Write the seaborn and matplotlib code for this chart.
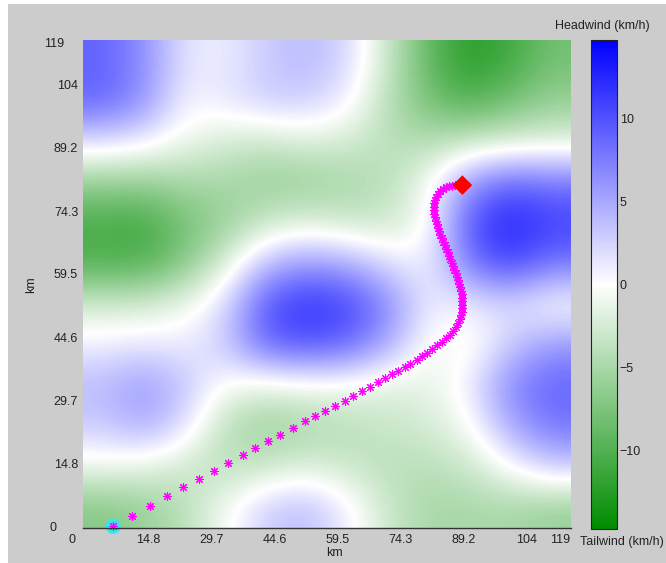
import numpy as np
import matplotlib
matplotlib.use("Agg")
import matplotlib.pyplot as plt
import seaborn as sns
from matplotlib.colors import LinearSegmentedColormap
from matplotlib.transforms import ScaledTranslation
from matplotlib.patches import Rectangle

# Wind component along the route (km/h): positive = headwind, negative = tailwind.
# Rows run from north (top) to south (bottom), columns from west to east,
# sampled on a regular 12 x 12 grid over the domain.
wind_grid = [
    [9.0, 6.5, 1.5, 1.0, 3.0, 4.0, 2.5, -3.0, -9.0, -12.5, -11.0, -8.0],
    [9.0, 6.5, 0.5, 1.5, 3.0, 3.0, 1.0, -4.0, -8.0, -10.0, -8.0, -6.0],
    [2.0, 1.0, -1.0, -2.5, -3.0, -2.0, -2.5, -4.0, -4.5, -3.0, -2.5, -2.0],
    [-6.0, -6.0, -5.0, -5.0, -6.0, -6.0, -5.0, -4.0, -0.5, 6.0, 9.0, 8.0],
    [-10.5, -11.0, -8.0, -6.0, -3.0, -2.0, -3.0, -3.0, -0.5, 10.0, 13.0, 11.0],
    [-10.0, -10.0, -7.0, -2.0, 4.0, 6.0, 5.0, 2.0, 0.5, 8.0, 11.0, 8.0],
    [-2.5, -2.5, -1.0, 2.0, 10.0, 12.0, 11.0, 7.0, 1.0, 1.0, 2.0, -0.5],
    [1.0, 1.5, 1.0, 3.0, 9.0, 10.0, 9.0, 5.0, -0.5, -1.0, 3.0, 6.0],
    [4.0, 6.0, 3.5, -0.5, -1.5, -1.0, -1.0, -2.0, -1.5, 1.0, 7.0, 9.0],
    [3.0, 5.0, 2.0, -4.0, -6.0, -5.0, -4.0, -3.0, -2.5, -0.5, 5.0, 8.0],
    [-1.0, -1.5, -3.0, -4.0, -3.0, -2.0, -3.0, -4.0, -4.0, -3.0, 0.0, 3.0],
    [-7.0, -6.0, -4.0, -0.5, 3.0, 4.0, 1.0, -3.0, -5.0, -5.0, -5.0, -6.0],
]

# Flight path (km), one point per time step
path_x_km = [
    6.6, 11.1, 15.3, 19.3, 23.1, 26.9, 30.4, 33.7, 37.1, 40.1, 43.2, 46.0,
    49.0, 51.7, 54.1, 56.5, 58.9, 61.2, 63.2, 65.2, 67.2, 69.0, 70.6, 72.3,
    73.8, 75.3, 76.6, 78.1, 79.4, 80.5, 81.7, 82.9,
    84.0, 85.1, 86.0, 86.8, 87.4, 87.9, 88.3, 88.5, 88.7, 88.8, 88.9, 88.9,
    88.8, 88.7, 88.6, 88.4, 88.1, 87.9, 87.6, 87.3, 87.0, 86.7, 86.4, 86.1,
    85.8, 85.4, 85.1, 84.7, 84.4, 84.0, 83.7, 83.4, 83.1, 82.9, 82.7, 82.5,
    82.3, 82.3, 82.3, 82.3, 82.5, 82.8, 83.2, 83.7, 84.3, 85.0, 85.7, 86.4,
    87.1, 87.8, 88.5,
]
path_y_km = [
    0.0, 2.4, 4.9, 7.1, 9.2, 11.1, 13.1, 14.9, 16.7, 18.5, 20.0, 21.6,
    23.2, 24.7, 26.0, 27.2, 28.4, 29.6, 30.8, 31.8, 32.8, 33.9, 34.9, 35.8,
    36.7, 37.5, 38.3, 39.3, 40.1, 40.9, 41.8, 42.7,
    43.5, 44.3, 45.1, 46.1, 47.0, 48.0, 48.9, 49.7, 50.6, 51.4, 52.2, 53.0,
    53.9, 54.7, 55.5, 56.3, 57.2, 58.0, 58.8, 59.6, 60.5, 61.3, 62.1, 62.9,
    63.8, 64.6, 65.4, 66.2, 67.1, 67.9, 68.7, 69.5, 70.4, 71.2, 72.0, 72.8,
    73.7, 74.5, 75.3, 76.1, 77.0, 77.7, 78.4, 79.0, 79.5, 79.9, 80.1, 80.3,
    80.4, 80.4, 80.4,
]
start_km = (6.6, 0.0)
end_km = (88.9, 80.4)

x_tick_pos = [0, 14.8, 29.7, 44.6, 59.5, 74.3, 89.2, 104, 112]
y_tick_pos = [0, 14.8, 29.7, 44.6, 59.5, 74.3, 89.2, 104, 114]
tick_labels = ["0", "14.8", "29.7", "44.6", "59.5", "74.3", "89.2", "104", "119"]
cbar_ticks = [-10, -5, 0, 5, 10]
wind_limit = 14.7

XLIM = (-0.5, 114.5)
YLIM = (-0.4, 114.6)

sns.set_theme(style="white")
plt.rcParams["font.family"] = ["Liberation Sans", "DejaVu Sans"]

fig = plt.figure(figsize=(6.66, 5.63), dpi=100, facecolor="white")
fig.patches.append(Rectangle((8 / 666, 0), 1, 1 - 4 / 563, transform=fig.transFigure,
                             facecolor="#cccccc", edgecolor="none", zorder=-5))

ax = fig.add_axes([83 / 666, 35 / 563, 488 / 666, 488 / 563])

cmap = LinearSegmentedColormap.from_list("tail_head", ["#008c00", "#ffffff", "#0000ff"])
img = ax.imshow(np.array(wind_grid), cmap=cmap, vmin=-wind_limit, vmax=wind_limit,
                extent=(XLIM[0], XLIM[1], YLIM[0], YLIM[1]), origin="upper",
                interpolation="bicubic", aspect="auto", zorder=1)

# start point, path and destination
ax.scatter([start_km[0]], [start_km[1]], s=120, color="#33e6f0", edgecolors="none",
           zorder=3, clip_on=False)
sns.scatterplot(x=path_x_km, y=path_y_km, marker=(8, 2, 0), s=32, color="#ff00ff",
                linewidth=0.8, ax=ax, zorder=4, legend=False, clip_on=False)
ax.scatter([end_km[0]], [end_km[1]], s=100, marker="D", color="#ff0000",
           edgecolors="none", zorder=5)

ax.set_xlim(*XLIM)
ax.set_ylim(*YLIM)
ax.set_xticks(x_tick_pos)
ax.set_xticklabels(tick_labels)
ax.set_yticks(y_tick_pos)
ax.set_yticklabels(tick_labels)
ax.tick_params(axis="both", length=0, labelsize=9, colors="#222222")
ax.tick_params(axis="x", pad=4)
ax.tick_params(axis="y", pad=3.5)

dpi = fig.dpi
def shift(label, dx_px):
    label.set_transform(label.get_transform() +
                        ScaledTranslation(dx_px / dpi, 0, fig.dpi_scale_trans))

shift(ax.get_xticklabels()[0], -13)
shift(ax.get_yticklabels()[0], -22)
shift(ax.get_yticklabels()[-1], -14)

for side in ["top", "right", "left"]:
    ax.spines[side].set_visible(False)
ax.spines["bottom"].set_color("#333333")
ax.spines["bottom"].set_linewidth(1.0)
ax.spines["bottom"].set_zorder(6)

ax.set_xlabel("km", fontsize=9, color="#222222")
ax.xaxis.set_label_coords(0.516, -0.039)
ax.set_ylabel("km", fontsize=9, color="#222222")
ax.yaxis.set_label_coords(-0.094, 0.498)

cax = fig.add_axes([591 / 666, 34 / 563, 26 / 666, 489 / 563])
cb = fig.colorbar(img, cax=cax, ticks=cbar_ticks)
cb.outline.set_edgecolor("#222222")
cb.outline.set_linewidth(0.8)
cax.yaxis.set_ticks_position("both")
cax.tick_params(axis="y", which="both", direction="in", length=5, width=0.8,
                left=True, right=True, labelleft=False, labelright=True,
                labelsize=9, pad=2, color="#444444", labelcolor="#222222")
cax.minorticks_off()

fig.text(602 / 666, 1 - 26 / 563, "Headwind (km/h)", ha="center", va="center",
         fontsize=9, color="#222222")
fig.text(622 / 666, 1 - 542 / 563, "Tailwind (km/h)", ha="center", va="center",
         fontsize=9, color="#222222")

fig.savefig("out.png", dpi=100, facecolor=fig.get_facecolor())
